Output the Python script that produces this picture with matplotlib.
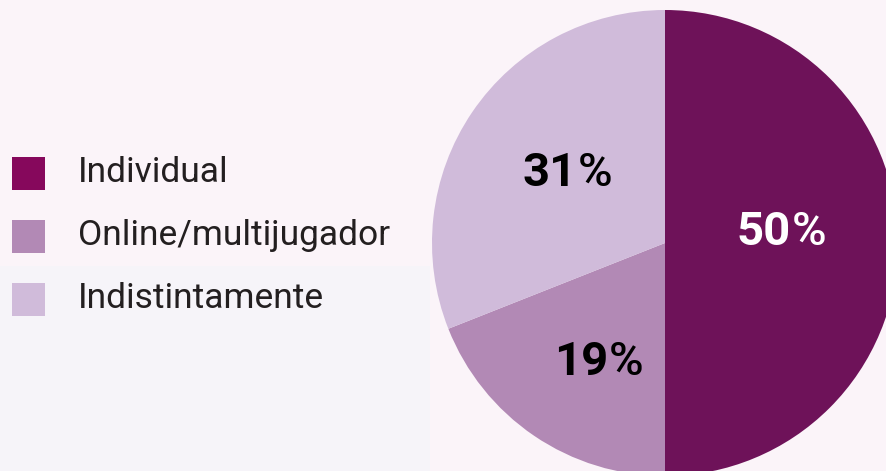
import numpy as np
import matplotlib.pyplot as plt
from matplotlib.patches import Rectangle

categorias = ['Individual', 'Online/multijugador', 'Indistintamente']
valores = [50, 19, 31]
colores_pie = ['#6E1259', '#B289B5', '#D0BBDA']
colores_leyenda = ['#86085C', '#B289B5', '#D0BBDA']
etiquetas = ['50', '19', '31']
color_etiqueta = ['white', 'black', 'black']

W, H = 887, 471
fig = plt.figure(figsize=(W / 100, H / 100), dpi=100)
fig.patch.set_facecolor('#FBF4F9')
ax = fig.add_axes([0, 0, 1, 1])
ax.set_facecolor('#FBF4F9')

# fondo algo mas azulado abajo a la izquierda
ax.add_patch(Rectangle((0, 0), 430, 205, color='#F6F4F9', zorder=0, lw=0))

cx, cy, r = 665, H - 243, 233
ax.pie(valores, colors=colores_pie, startangle=90, counterclock=False,
       center=(cx, cy), radius=r, frame=True,
       wedgeprops=dict(linewidth=0))

# etiquetas de porcentaje: numero en negrita, % normal
pos_etq = [(791, H - 232), (608, H - 362), (577, H - 173)]
for (x, y), t, c in zip(pos_etq, etiquetas, color_etiqueta):
    ax.text(x, y, t, ha='right', va='center', fontsize=34, fontweight='bold',
            family='Roboto', color=c)
    ax.text(x + 1, y, '%', ha='left', va='center', fontsize=34,
            fontweight='medium', family='Roboto', color=c)

# leyenda
ys = [H - 173, H - 236, H - 299]
for y, nombre, col in zip(ys, categorias, colores_leyenda):
    ax.add_patch(Rectangle((12, y - 16.5), 33, 33, color=col, lw=0))
    ax.text(78, y, nombre, ha='left', va='center', fontsize=25.5,
            family='Roboto', color='#231F20')

ax.set_xlim(0, W)
ax.set_ylim(0, H)
ax.set_aspect('auto')
ax.axis('off')

plt.savefig('out.png', dpi=100, facecolor=fig.get_facecolor())
